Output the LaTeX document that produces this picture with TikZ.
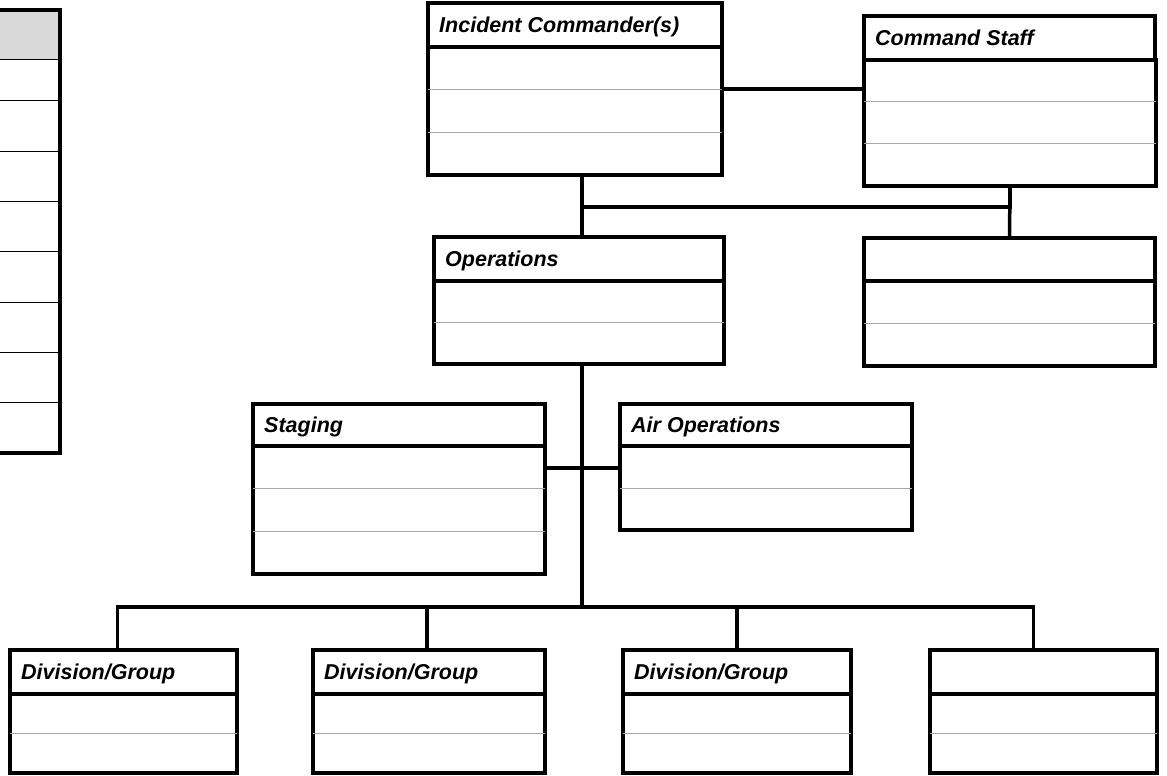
\documentclass[tikz,border=0pt]{standalone}
\usepackage{fontspec}
\usepackage{tikz}
\usetikzlibrary{calc}
\usetikzlibrary{positioning}
\newfontfamily\boxfont{Liberation Sans}
\definecolor{rowgray}{RGB}{168,168,160}
\definecolor{tablegray}{RGB}{217,217,217}

\tikzset{
  head/.style={rectangle, draw=black, line width=3.5pt, outer sep=0pt, inner sep=0pt, anchor=north west, minimum height=44pt},
  body/.style={rectangle, draw=black, line width=3.5pt, outer sep=0pt, inner sep=0pt, anchor=north west},
  hdlabel/.style={anchor=west, inner sep=0pt, xshift=11pt, text height=15pt, text depth=0pt,
    font=\boxfont\bfseries\itshape\fontsize{21.5}{25}\selectfont},
  rowline/.style={draw=rowgray, line width=1pt},
  conn/.style={draw=black, line width=3.5pt},
}

\begin{document}
\begin{tikzpicture}[x=1pt, y=-1pt]
\useasboundingbox (0,0) rectangle (1167,776);

% table on the left
\fill[tablegray] (-5,10) rectangle (60,60);
\draw[line width=1pt] (-5,60) -- (60,60);
\draw[line width=1pt] (-5,100) -- (60,100);
\draw[line width=1pt] (-5,151) -- (60,151);
\draw[line width=1pt] (-5,201) -- (60,201);
\draw[line width=1pt] (-5,251) -- (60,251);
\draw[line width=1pt] (-5,302) -- (60,302);
\draw[line width=1pt] (-5,352) -- (60,352);
\draw[line width=1pt] (-5,402) -- (60,402);
\draw[line width=4.5pt] (-5,10) rectangle (60,453);

% command
\node[head, minimum width=294pt, label={[hdlabel]west:Incident Commander(s)}] (ich) at (428,3) {};
\node[body, minimum width=294pt, minimum height=128pt] (icb) at (428,47) {};
\draw[rowline] ($(icb.north west)!1/3!(icb.south west)$) -- ($(icb.north east)!1/3!(icb.south east)$);
\draw[rowline] ($(icb.north west)!2/3!(icb.south west)$) -- ($(icb.north east)!2/3!(icb.south east)$);

\node[head, minimum width=291pt, label={[hdlabel]west:Command Staff}] (csh) at (864,16) {};
\node[body, minimum width=292pt, minimum height=126pt] (csb) at (864,60) {};
\draw[rowline] ($(csb.north west)!1/3!(csb.south west)$) -- ($(csb.north east)!1/3!(csb.south east)$);
\draw[rowline] ($(csb.north west)!2/3!(csb.south west)$) -- ($(csb.north east)!2/3!(csb.south east)$);

% sections
\node[head, minimum width=290pt, label={[hdlabel]west:Operations}] (opsh) at (434,237) {};
\node[body, minimum width=290pt, minimum height=83pt] (opsb) at (434,281) {};
\draw[rowline] (opsb.west) -- (opsb.east);

\node[head, minimum width=291pt, minimum height=43pt] (rh) at (864,238) {};
\node[body, minimum width=291pt, minimum height=85pt] (rb) at (864,281) {};
\draw[rowline] (rb.west) -- (rb.east);

% branches
\node[head, minimum width=292pt, minimum height=42pt, label={[hdlabel]west:Staging}] (sth) at (253,404) {};
\node[body, minimum width=292pt, minimum height=128pt] (stb) at (253,446) {};
\draw[rowline] ($(stb.north west)!1/3!(stb.south west)$) -- ($(stb.north east)!1/3!(stb.south east)$);
\draw[rowline] ($(stb.north west)!2/3!(stb.south west)$) -- ($(stb.north east)!2/3!(stb.south east)$);

\node[head, minimum width=292pt, minimum height=42pt, label={[hdlabel]west:Air Operations}] (airh) at (620,404) {};
\node[body, minimum width=292pt, minimum height=84pt] (airb) at (620,446) {};
\draw[rowline] (airb.west) -- (airb.east);

% divisions
\node[head, minimum width=227pt, label={[hdlabel]west:Division/Group}] (div1h) at (10,650) {};
\node[body, minimum width=227pt, minimum height=79pt] (div1b) at (10,694) {};
\draw[rowline] (div1b.west) -- (div1b.east);

\node[head, minimum width=232pt, label={[hdlabel]west:Division/Group}] (div2h) at (313,650) {};
\node[body, minimum width=232pt, minimum height=79pt] (div2b) at (313,694) {};
\draw[rowline] (div2b.west) -- (div2b.east);

\node[head, minimum width=228pt, label={[hdlabel]west:Division/Group}] (div3h) at (623,650) {};
\node[body, minimum width=228pt, minimum height=79pt] (div3b) at (623,694) {};
\draw[rowline] (div3b.west) -- (div3b.east);

\node[head, minimum width=227pt] (div4h) at (930,650) {};
\node[body, minimum width=227pt, minimum height=79pt] (div4b) at (930,694) {};
\draw[rowline] (div4b.west) -- (div4b.east);

% connectors
\coordinate (icr) at ([yshift=22pt]icb.east);
\draw[conn] (icr) -- (icr -| csb.west);

\coordinate (trunk) at (582,207);
\coordinate (bus) at (582,607);
\draw[conn] (icb.south -| trunk) -- (opsh.north -| trunk);
\draw[conn] (trunk) -| (csb.south);
\draw[conn] (csb.south) -- (rh.north);
\draw[conn] (opsb.south -| bus) -- (bus);

\coordinate (str) at ([yshift=42pt]stb.east);
\draw[conn] (str) -- (str -| airb.west);

\draw[conn] ([xshift=-6pt]div1h.north) |- (bus);
\draw[conn] ([xshift=-2pt]div2h.north) |- (bus);
\draw[conn] (div3h.north) |- (bus);
\draw[conn] ([xshift=-10pt]div4h.north) |- (bus);
\end{tikzpicture}
\end{document}
